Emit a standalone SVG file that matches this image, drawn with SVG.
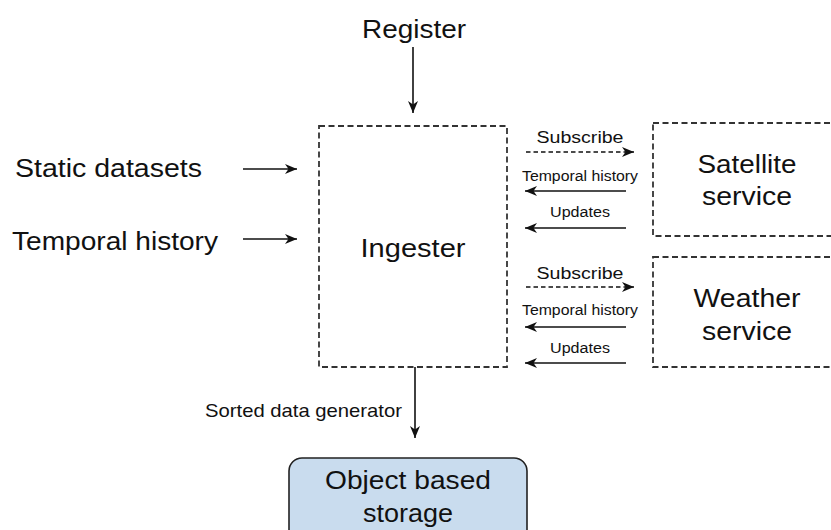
<svg xmlns="http://www.w3.org/2000/svg" width="831" height="530" viewBox="0 0 831 530">
  <style>
    text { font-family: "Liberation Sans", Arial, sans-serif; fill: #111; }
    .big { font-size: 26px; }
    .mid { font-size: 18.5px; }
    .small { font-size: 16px; }
    .tiny { font-size: 14px; }
    .dashbox { fill: #fff; stroke: #333; stroke-width: 1.8; stroke-dasharray: 6 3.5; }
    .edge { fill: none; stroke: #111; stroke-width: 1.6; marker-end: url(#head); }
    .edge.dashed { stroke-dasharray: 4.5 3; }
  </style>
  <defs>
    <marker id="head" markerUnits="userSpaceOnUse" markerWidth="13" markerHeight="11" refX="12" refY="5.5" orient="auto">
      <path d="M0,0.5 L12,5.5 L0,10.5 L3.5,5.5 Z" fill="#111"/>
    </marker>
  </defs>

  <rect width="831" height="530" fill="#fff"/>

  <!-- free-standing input labels -->
  <g id="register">
    <text class="big" x="414" y="38" text-anchor="middle" textLength="104" lengthAdjust="spacingAndGlyphs">Register</text>
  </g>
  <g id="static-datasets">
    <text class="big" x="15" y="177" textLength="187" lengthAdjust="spacingAndGlyphs">Static datasets</text>
  </g>
  <g id="temporal-history-input">
    <text class="big" x="12" y="250" textLength="206" lengthAdjust="spacingAndGlyphs">Temporal history</text>
  </g>

  <!-- ingester -->
  <g id="ingester">
    <rect class="dashbox" x="319" y="126" width="188" height="241"/>
    <text class="big" x="413" y="257" text-anchor="middle" textLength="105" lengthAdjust="spacingAndGlyphs">Ingester</text>
  </g>

  <!-- external services -->
  <g id="satellite-service">
    <rect class="dashbox" x="653" y="123" width="190" height="113"/>
    <text class="big" x="747" y="173" text-anchor="middle" textLength="99" lengthAdjust="spacingAndGlyphs">Satellite</text>
    <text class="big" x="747" y="205" text-anchor="middle" textLength="90" lengthAdjust="spacingAndGlyphs">service</text>
  </g>
  <g id="weather-service">
    <rect class="dashbox" x="653" y="257" width="190" height="110"/>
    <text class="big" x="747" y="307" text-anchor="middle" textLength="107" lengthAdjust="spacingAndGlyphs">Weather</text>
    <text class="big" x="747" y="340" text-anchor="middle" textLength="90" lengthAdjust="spacingAndGlyphs">service</text>
  </g>

  <!-- storage -->
  <g id="object-storage">
    <rect x="289" y="458" width="238" height="90" rx="13" ry="13" fill="#c9dcee" stroke="#222" stroke-width="1.6"/>
    <text class="big" x="408" y="489" text-anchor="middle" textLength="166" lengthAdjust="spacingAndGlyphs">Object based</text>
    <text class="big" x="408" y="522" text-anchor="middle" textLength="90" lengthAdjust="spacingAndGlyphs">storage</text>
  </g>

  <!-- connectors -->
  <g id="connectors">
    <line class="edge" x1="413" y1="47" x2="413" y2="113"/>
    <line class="edge" x1="243" y1="169" x2="297" y2="169"/>
    <line class="edge" x1="243" y1="239" x2="297" y2="239"/>
    <line class="edge" x1="415" y1="367" x2="415" y2="438"/>

    <line class="edge dashed" x1="526" y1="152" x2="634" y2="152"/>
    <line class="edge" x1="626" y1="191" x2="525" y2="191"/>
    <line class="edge" x1="626" y1="228" x2="525" y2="228"/>

    <line class="edge dashed" x1="526" y1="287" x2="634" y2="287"/>
    <line class="edge" x1="626" y1="327" x2="525" y2="327"/>
    <line class="edge" x1="626" y1="363" x2="525" y2="363"/>

    <text class="mid" x="205" y="417" textLength="197" lengthAdjust="spacingAndGlyphs">Sorted data generator</text>

    <text class="small" x="580" y="143" text-anchor="middle" textLength="87" lengthAdjust="spacingAndGlyphs">Subscribe</text>
    <text class="tiny" x="580" y="181" text-anchor="middle" textLength="116" lengthAdjust="spacingAndGlyphs">Temporal history</text>
    <text class="tiny" x="580" y="217" text-anchor="middle" textLength="60" lengthAdjust="spacingAndGlyphs">Updates</text>

    <text class="small" x="580" y="279" text-anchor="middle" textLength="87" lengthAdjust="spacingAndGlyphs">Subscribe</text>
    <text class="tiny" x="580" y="315" text-anchor="middle" textLength="116" lengthAdjust="spacingAndGlyphs">Temporal history</text>
    <text class="tiny" x="580" y="353" text-anchor="middle" textLength="60" lengthAdjust="spacingAndGlyphs">Updates</text>
  </g>
</svg>
